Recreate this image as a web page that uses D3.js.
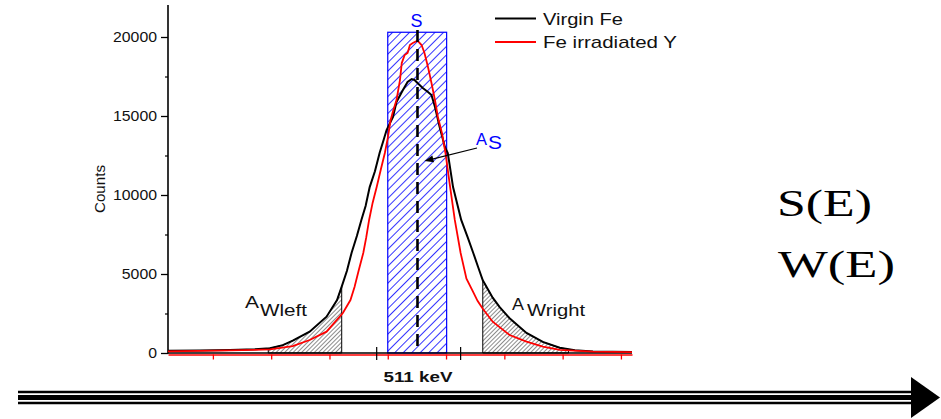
<!DOCTYPE html>
<html><head><meta charset="utf-8">
<script src="https://cdn.jsdelivr.net/npm/d3@7"></script>
<style>
html,body{margin:0;padding:0;background:#fff;}
svg{display:block;}
</style></head>
<body>
<svg id="c" width="941" height="419"></svg>
<script>
// ---- data (energy in keV, counts) ----
const virginE = [506.73,507.27,507.79,508.22,508.48,508.70,508.87,509.16,509.45,509.63,509.71,509.80,509.88,509.97,510.05,510.12,510.19,510.28,510.36,510.43,510.48,510.59,510.65,510.76,510.84,510.91,510.96,511.01,511.10,511.19,511.25,511.31,511.39,511.48,511.53,511.62,511.76,511.87,511.97,512.05,512.13,512.30,512.42,512.59,512.88,513.16,513.45,513.71,514.02,514.69];
const virginCounts = [150,160,190,240,300,500,780,1350,2300,3350,4200,5200,6350,7400,8450,9300,10500,11500,12660,13500,14110,14940,15890,16650,17150,17340,17280,17090,16770,16520,16330,15570,14300,13040,12660,10500,8420,7340,6300,5440,4600,3500,2900,2200,1270,700,330,180,100,60];
const irradE = [506.73,507.27,507.79,508.22,508.48,508.87,509.16,509.45,509.73,509.86,509.93,510.00,510.08,510.13,510.18,510.24,510.31,510.38,510.45,510.50,510.55,510.59,510.65,510.71,510.74,510.79,510.84,510.88,510.93,511.01,511.08,511.13,511.19,511.25,511.31,511.36,511.43,511.49,511.57,511.65,511.75,511.85,511.96,512.04,512.13,512.30,512.59,512.88,513.16,513.45,514.02,514.69];
const irradCounts = [100,130,160,200,230,440,820,1350,2530,3350,4180,5200,6330,7300,8420,9500,10500,11600,12660,13600,14750,15300,16010,17280,18350,18860,18990,19490,19620,19770,19490,18990,18100,17090,16010,14940,13920,12660,10500,8420,6330,4700,3900,3300,2800,1980,1140,720,400,200,90,60];
const seriesNames = ["Virgin Fe","Fe irradiated Y"];
const yTicks = [0,5000,10000,15000,20000];
const yMinorTicks = [2500,7500,12500,17500];
const xTicks = [507.5,508.5,509.5,510.5,511.5,512.5,513.5,514.5];
const markE = [510.31,511.75];
const sWindow = [510.50,511.51];
const sTop = 20300;
const wLeft = [508.45,509.71];
const wRight = [512.13,513.60];
const centerE = 511.01;

const SANS = "'Liberation Sans',Arial,sans-serif";
const SERIF = "'Liberation Serif','Times New Roman',serif";

const svg = d3.select("#c");
const x = d3.scaleLinear().domain([506.73,514.69]).range([168,632]);
const y = d3.scaleLinear().domain([0,20000]).range([353,37]);

const virgin = virginE.map((e,i)=>({e, c:virginCounts[i]}));
const irrad = irradE.map((e,i)=>({e, c:irradCounts[i]}));

// patterns
const defs = svg.append("defs");
const pb = defs.append("pattern").attr("id","hb").attr("patternUnits","userSpaceOnUse")
  .attr("width",6).attr("height",6).attr("patternTransform","rotate(45)");
pb.append("line").attr("x1",0).attr("y1",0).attr("x2",0).attr("y2",6).attr("stroke","#0000ff").attr("stroke-width",1.6);
const pk = defs.append("pattern").attr("id","hk").attr("patternUnits","userSpaceOnUse")
  .attr("width",3).attr("height",3).attr("patternTransform","rotate(45)");
pk.append("line").attr("x1",0).attr("y1",0).attr("x2",0).attr("y2",3).attr("stroke","#000").attr("stroke-width",0.9);

// wing areas
function interp(data, e){
  for(let i=0;i<data.length-1;i++){
    if(e>=data[i].e && e<=data[i+1].e){
      const t=(e-data[i].e)/(data[i+1].e-data[i].e);
      return data[i].c + t*(data[i+1].c-data[i].c);
    }
  }
  return 0;
}
function windowData(data, w){
  const pts=[{e:w[0],c:interp(data,w[0])}];
  data.forEach(d=>{ if(d.e>w[0]&&d.e<w[1]) pts.push(d); });
  pts.push({e:w[1],c:interp(data,w[1])});
  return pts;
}
const area = d3.area().x(d=>x(d.e)).y0(y(0)).y1(d=>y(d.c));
[wLeft,wRight].forEach(w=>{
  svg.append("path").datum(windowData(virgin,w)).attr("d",area)
    .attr("fill","url(#hk)").attr("stroke","#000").attr("stroke-width",1);
});

// S window
svg.append("rect").attr("x",x(sWindow[0])).attr("y",y(sTop))
  .attr("width",x(sWindow[1])-x(sWindow[0])).attr("height",y(0)-y(sTop))
  .attr("fill","url(#hb)").attr("stroke","#0000ff").attr("stroke-width",1.2);

// axes
const yAxis = svg.append("g").attr("transform","translate(168,0)")
  .call(d3.axisLeft(y).tickValues(yTicks).tickSize(7).tickPadding(4).tickFormat(d3.format("d")));
yAxis.select(".domain").remove();
yAxis.selectAll("line").attr("stroke","#000").attr("stroke-width",1.3);
yAxis.selectAll("text").style("font-family",SANS).style("font-size","14px").attr("fill","#111")
  .each(function(d){ const s=String(d); d3.select(this).attr("textLength", s.length*8.8).attr("lengthAdjust","spacingAndGlyphs"); });
const yMinor = svg.append("g").attr("transform","translate(168,0)")
  .call(d3.axisLeft(y).tickValues(yMinorTicks).tickSize(3).tickFormat(""));
yMinor.select(".domain").remove();
yMinor.selectAll("line").attr("stroke","#000").attr("stroke-width",1.2);
svg.append("line").attr("x1",168).attr("x2",168).attr("y1",5).attr("y2",y(0)+0.5)
  .attr("stroke","#000").attr("stroke-width",1.6);

svg.append("line").attr("x1",168).attr("x2",632).attr("y1",y(0)).attr("y2",y(0))
  .attr("stroke","#000").attr("stroke-width",1.6);
const xAxis = svg.append("g").attr("transform",`translate(0,${y(0)+1.5})`)
  .call(d3.axisBottom(x).tickValues(xTicks).tickSize(5).tickSizeOuter(0).tickFormat(""));
xAxis.select(".domain").attr("stroke","#ff0000").attr("stroke-width",1.4);
xAxis.selectAll("line").attr("stroke","#ff0000").attr("stroke-width",1.3);
markE.forEach(e=>{
  svg.append("line").attr("x1",x(e)).attr("x2",x(e)).attr("y1",y(0)-6).attr("y2",y(0)+7)
    .attr("stroke","#000").attr("stroke-width",1.2);
});

// curves
const line = d3.line().x(d=>x(d.e)).y(d=>y(d.c));
svg.append("path").datum(virgin).attr("d",line).attr("fill","none").attr("stroke","#000").attr("stroke-width",2);
svg.append("path").datum(irrad).attr("d",line).attr("fill","none").attr("stroke","#ff0000").attr("stroke-width",1.8);

// dashed centre line
svg.append("line").attr("x1",x(centerE)).attr("x2",x(centerE)).attr("y1",30).attr("y2",y(0))
  .attr("stroke","#000").attr("stroke-width",2.6).attr("stroke-dasharray","12,7");

function txt(xp, yp, s, size, opts={}){
  const t = svg.append("text").attr("x",xp).attr("y",yp).text(s)
    .style("font-family",opts.family||SANS).style("font-size",size+"px")
    .attr("fill",opts.fill||"#111");
  if(opts.anchor) t.attr("text-anchor",opts.anchor);
  if(opts.weight) t.style("font-weight",opts.weight);
  if(opts.len) t.attr("textLength",opts.len).attr("lengthAdjust","spacingAndGlyphs");
  return t;
}

// labels
txt(x(centerE)-1, 27, "S", 18, {fill:"#0000ff", anchor:"middle", len:12});
svg.append("text").attr("transform","translate(105,189) rotate(-90)").attr("text-anchor","middle")
  .style("font-family",SANS).style("font-size","15px").attr("fill","#111")
  .attr("textLength",48).attr("lengthAdjust","spacingAndGlyphs").text("Counts");
txt(418, 382, "511 keV", 15, {anchor:"middle", weight:"bold", len:69});

// legend
[["#000",18.5,25,80],["#ff0000",42,48,134]].forEach((r,i)=>{
  svg.append("line").attr("x1",495).attr("x2",536).attr("y1",r[1]).attr("y2",r[1]).attr("stroke",r[0]).attr("stroke-width",2);
  txt(543, r[2], seriesNames[i], 17, {len:r[3]});
});

// A_S annotation
const tipX = x(511.13), tipY = y(12150);
const sx = 477, sy = 148;
const ang = Math.atan2(tipY-sy, tipX-sx);
svg.append("line").attr("x1",sx).attr("y1",sy).attr("x2",tipX-Math.cos(ang)*6).attr("y2",tipY-Math.sin(ang)*6)
  .attr("stroke","#000").attr("stroke-width",1.2);
const hl=9, hw=3.5;
const bx=tipX-Math.cos(ang)*hl, by=tipY-Math.sin(ang)*hl;
svg.append("polygon").attr("points",[
  [tipX,tipY],[bx+Math.sin(ang)*hw,by-Math.cos(ang)*hw],[bx-Math.sin(ang)*hw,by+Math.cos(ang)*hw]
].map(p=>p.join(",")).join(" ")).attr("fill","#000");
txt(476, 145, "A", 17, {fill:"#0000ff", len:11});
txt(488, 149, "S", 18, {fill:"#0000ff", len:14});

// wing labels
txt(245, 308, "A", 16, {len:14});
txt(260, 316, "Wleft", 17, {len:47});
txt(512, 310, "A", 16, {len:12});
txt(527, 316, "Wright", 17, {len:58});

// S(E), W(E)
txt(777, 216, "S(E)", 38, {family:SERIF, fill:"#000", len:95});
txt(778, 277, "W(E)", 38, {family:SERIF, fill:"#000", len:117});

// big arrow
[[392,2.6],[397.5,5],[403,2.6]].forEach(r=>{
  svg.append("line").attr("x1",18).attr("x2",914).attr("y1",r[0]).attr("y2",r[0])
    .attr("stroke","#000").attr("stroke-width",r[1]);
});
svg.append("polygon").attr("points","911,377 940,397.5 911,418").attr("fill","#000");
</script>
</body></html>
